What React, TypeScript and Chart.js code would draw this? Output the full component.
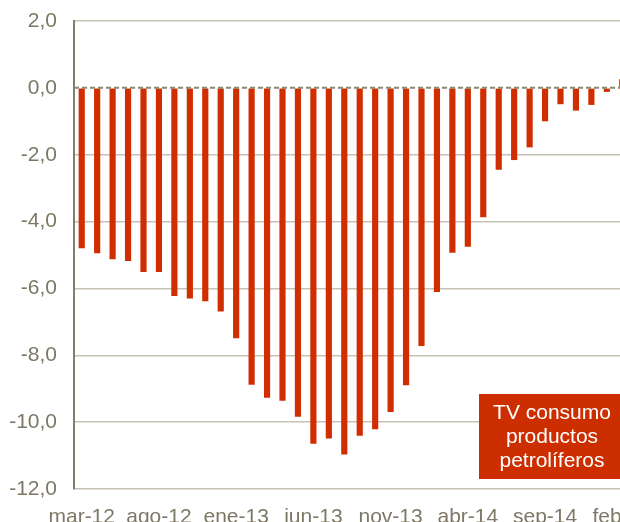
import React, { useEffect, useRef } from "react";
import { Chart, registerables } from "chart.js";

Chart.register(...registerables);

const categories: string[] = [
  "mar-12", "abr-12", "may-12", "jun-12", "jul-12", "ago-12", "sep-12", "oct-12", "nov-12", "dic-12",
  "ene-13", "feb-13", "mar-13", "abr-13", "may-13", "jun-13", "jul-13", "ago-13", "sep-13", "oct-13",
  "nov-13", "dic-13", "ene-14", "feb-14", "mar-14", "abr-14", "may-14", "jun-14", "jul-14", "ago-14",
  "sep-14", "oct-14", "nov-14", "dic-14", "ene-15", "feb-15",
];

const tvConsumo: number[] = [
  -4.8, -4.95, -5.13, -5.18, -5.51, -5.51, -6.23, -6.3, -6.38, -6.69,
  -7.49, -8.88, -9.27, -9.36, -9.84, -10.65, -10.49, -10.97, -10.41, -10.21,
  -9.7, -8.9, -7.72, -6.11, -4.93, -4.75, -3.87, -2.45, -2.16, -1.78,
  -1.0, -0.49, -0.68, -0.51, -0.12, 0.26,
];

const yTicks: number[] = [2, 0, -2, -4, -6, -8, -10, -12];
const legendLines: string[] = ["TV consumo", "productos", "petrolíferos"];

const BAR_COLOR = "#d02e00";
const TEXT_COLOR = "#7d7866";
const FONT = "'Liberation Sans', Arial, sans-serif";

const overlayPlugin = {
  id: "overlay",
  afterDatasetsDraw(chart: any) {
    const { ctx, chartArea, scales } = chart;
    const y0 = scales.y.getPixelForValue(0);
    ctx.save();
    ctx.strokeStyle = "#8c8572";
    ctx.lineWidth = 2;
    ctx.setLineDash([5, 3]);
    ctx.beginPath();
    ctx.moveTo(chartArea.left, y0);
    ctx.lineTo(chartArea.right, y0);
    ctx.stroke();
    ctx.restore();
  },
  afterDraw(chart: any) {
    const { ctx } = chart;
    ctx.save();
    ctx.fillStyle = "#cc2e00";
    ctx.fillRect(479, 394, 150, 85);
    ctx.fillStyle = "#ffffff";
    ctx.font = `21px ${FONT}`;
    ctx.textAlign = "center";
    ctx.textBaseline = "alphabetic";
    legendLines.forEach((t, i) => {
      ctx.fillText(t, 552, 419 + i * 24);
    });
    ctx.restore();
  },
};

export default function App() {
  const ref = useRef<HTMLCanvasElement | null>(null);
  useEffect(() => {
    if (!ref.current) return;
    const chart = new Chart(ref.current, {
      type: "bar",
      data: {
        labels: categories,
        datasets: [
          {
            data: tvConsumo,
            backgroundColor: BAR_COLOR,
            borderWidth: 0,
            categoryPercentage: 1,
            barPercentage: 0.4,
          },
        ],
      },
      options: {
        animation: false,
        responsive: false,
        devicePixelRatio: 1,
        layout: { padding: { top: 21, right: 0, left: 0, bottom: 0 } },
        plugins: { legend: { display: false }, tooltip: { enabled: false } },
        scales: {
          x: {
            grid: { display: false, drawTicks: false },
            border: { display: false },
            ticks: {
              autoSkip: false,
              maxRotation: 0,
              minRotation: 0,
              padding: 16,
              color: TEXT_COLOR,
              font: { size: 21, family: FONT },
              callback: (_v: any, i: number) => (i % 5 === 0 ? categories[i] : ""),
            },
            afterFit: (s: any) => {
              s.paddingLeft = 0;
              s.paddingRight = 0;
              s.height = 40;
            },
          },
          y: {
            min: yTicks[yTicks.length - 1],
            max: yTicks[0],
            afterBuildTicks: (s: any) => {
              s.ticks = yTicks.map((v) => ({ value: v }));
            },
            grid: {
              drawTicks: false,
              lineWidth: 1.5,
              color: (c: any) => (c.tick && c.tick.value === 0 ? "rgba(0,0,0,0)" : "#c8c2b4"),
            },
            border: { display: true, color: "#857d6c", width: 2 },
            ticks: {
              padding: 17,
              color: TEXT_COLOR,
              font: { size: 21, family: FONT },
              callback: (v: any) => Number(v).toFixed(1).replace(".", ","),
            },
            afterFit: (s: any) => {
              s.width = 74;
              s.paddingTop = 0;
              s.paddingBottom = 0;
            },
          },
        },
      },
      plugins: [overlayPlugin],
    });
    return () => chart.destroy();
  }, []);

  return (
    <div
      style={{
        position: "fixed",
        left: 0,
        top: 0,
        width: 620,
        height: 522,
        overflow: "hidden",
        background: "#ffffff",
      }}
    >
      <canvas ref={ref} width={630} height={529} style={{ display: "block" }} />
    </div>
  );
}
